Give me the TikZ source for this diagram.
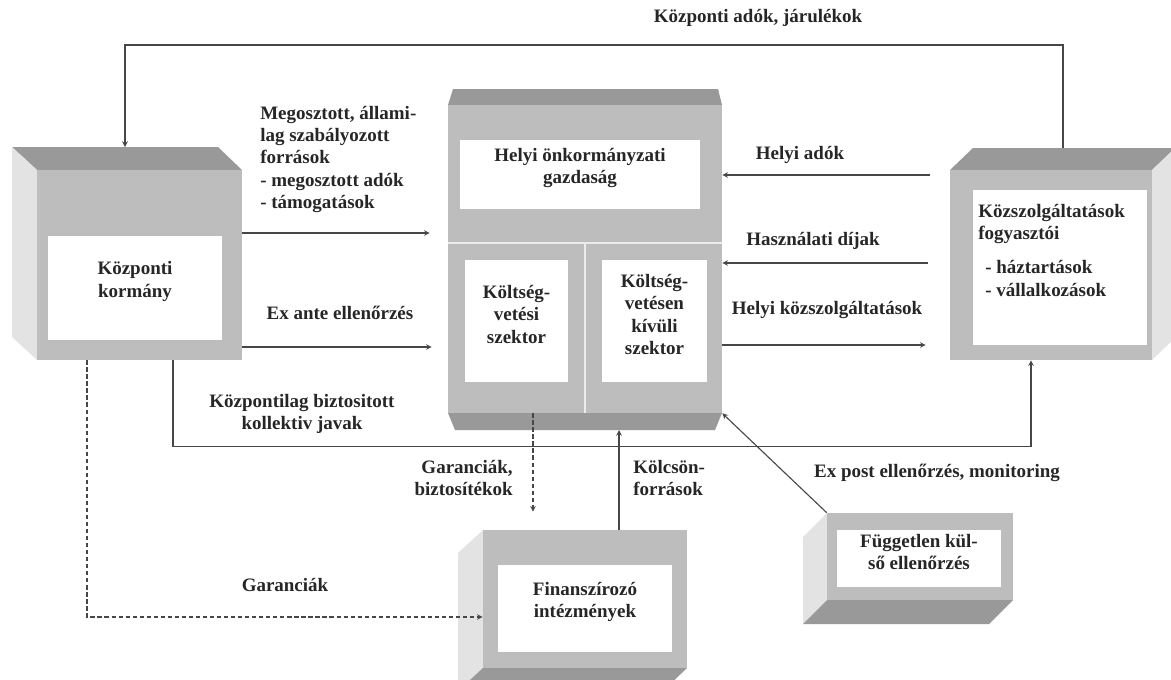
\documentclass[tikz,border=0pt]{standalone}
\usepackage{fontspec}
\setmainfont{Liberation Serif}
\usetikzlibrary{arrows,%
                fit}
\tikzstyle{front}=[rectangle, fill=black!26, inner sep=0pt]
\tikzstyle{inbox}=[rectangle, fill=white, inner sep=0pt]
\tikzstyle{topface}=[fill=black!40]
\tikzstyle{sideface}=[fill=black!11]
\tikzstyle{lbl}=[font=\fontsize{13.5}{15.8}\selectfont\bfseries, text=black!85, align=center, inner sep=0pt]
\tikzstyle{arr}=[-stealth, draw=black!72, line width=0.8pt]

\begin{document}
\begin{tikzpicture}[x=0.025cm, y=-0.025cm]
  \useasboundingbox (0,0) rectangle (1171,679);

  % Kozponti kormany
  \fill[topface] (12,147) -- (218,147) -- (242,170) -- (37,170) -- cycle;
  \fill[sideface] (12,147) -- (37,170) -- (37,360) -- (12,337) -- cycle;
  \node[front, fit={(37,170) (242,360)}] (kormany) {};
  \node[inbox, lbl, fit={(48,236) (222,340)}] (kormanyin) {Központi\\kormány};

  % Helyi onkormanyzati gazdasag
  \fill[topface] (453,89) -- (718,89) -- (722,105) -- (448,105) -- cycle;
  \fill[topface] (448,413) -- (722,413) -- (715,430) -- (455,430) -- cycle;
  \node[front, fit={(448,105) (722,413)}] (kozpont) {};
  \draw[black!8, line width=0.8pt] (kozpont.west |- 0,243) -- (kozpont.east |- 0,243);
  \draw[black!8, line width=0.8pt] (585,243) -- (kozpont.south -| 585,0);
  \node[inbox, lbl, fit={(460,140) (700,209)}] (helyi) {Helyi önkormányzati\\gazdaság};
  \node[inbox, lbl, fit={(465,260) (568,382)}] (kvs) {Költség-\\vetési\\szektor};
  \node[inbox, lbl, fit={(602,260) (707,382)}] (kvk) {Költség-\\vetésen\\kívüli\\szektor};
  \coordinate (kbot) at (585,430);

  % Kozszolgaltatasok fogyasztoi
  \fill[topface] (950,170) -- (973,148) -- (1175,148) -- (1152,170) -- cycle;
  \fill[sideface] (1152,170) -- (1175,148) -- (1175,338) -- (1152,360) -- cycle;
  \node[front, fit={(950,170) (1152,360)}] (fogyaszto) {};
  \node[inbox, fit={(973,190) (1147,345)}] (fogyin) {};
  \node[lbl, align=left, anchor=north west] (fogytxt) at (978,204)
    {Közszolgáltatások\\fogyasztói\\[3mm]\hspace*{5pt}- háztartások\\\hspace*{5pt}- vállalkozások};

  % Finanszirozo intezmenyek
  \fill[sideface] (458,553) -- (483,530) -- (483,668) -- (458,691) -- cycle;
  \fill[topface] (483,668) -- (687,668) -- (663,691) -- (458,691) -- cycle;
  \node[front, fit={(483,530) (687,668)}] (finansz) {};
  \node[inbox, lbl, fit={(498,565) (672,652)}] (finin) {Finanszírozó\\intézmények};

  % Fuggetlen kulso ellenorzes
  \fill[sideface] (803,537) -- (827,513) -- (827,600) -- (803,624) -- cycle;
  \fill[topface] (827,600) -- (1013,600) -- (989,624) -- (803,624) -- cycle;
  \node[front, fit={(827,513) (1013,600)}] (fuggetlen) {};
  \node[inbox, lbl, fit={(837,530) (1001,587)}] (fugin) {Független kül-\\ső ellenőrzés};

  % feliratok
  \node[lbl] (adok) at (758,18) {Központi adók, járulékok};
  \node[lbl, align=left, anchor=north west] (megoszt) at (260,106)
    {Megosztott, állami-\\lag szabályozott\\források\\- megosztott adók\\- támogatások};
  \node[lbl] (exante) at (340,313) {Ex ante ellenőrzés};
  \node[lbl] (kollektiv) at (302,414) {Központilag biztositott\\kollektiv javak};
  \node[lbl] (helyiado) at (800,155) {Helyi adók};
  \node[lbl] (dijak) at (813,241) {Használati díjak};
  \node[lbl] (szolg) at (827,310) {Helyi közszolgáltatások};
  \node[lbl, align=right, anchor=east] (garbizt) at (513,478) {Garanciák,\\biztosítékok};
  \node[lbl, align=left, anchor=west] (kolcson) at (633,478) {Kölcsön-\\források};
  \node[lbl] (expost) at (937,473) {Ex post ellenőrzés, monitoring};
  \node[lbl] (garancia) at (285,585) {Garanciák};

  % nyilak
  \coordinate (fogytop) at (1063,148);
  \coordinate (kormtop) at (125,147);
  \draw[arr] (fogytop) -- (fogytop |- 0,45) -| (kormtop);
  \draw[arr, shorten >=4.5mm] (kormany.east |- 0,233) -- (kozpont.west |- 0,233);
  \draw[arr, shorten >=4mm] (kormany.east |- 0,347) -- (kozpont.west |- 0,347);
  \draw[arr] (kormany.south -| 173,0) -- ++(0,86) -| (fogyaszto.south -| 1031,0);
  \draw[arr, shorten <=5mm] (fogyaszto.west |- 0,175) -- (kozpont.east |- 0,175);
  \draw[arr, shorten <=5.5mm] (fogyaszto.west |- 0,263) -- (kozpont.east |- 0,263);
  \draw[arr, shorten >=6mm] (kozpont.east |- 0,345) -- (fogyaszto.west |- 0,345);
  \draw[arr, dash pattern=on 3pt off 2pt] (kormany.south -| 87,0) |- (finansz.west |- 0,617);
  \draw[arr, dash pattern=on 3pt off 2pt, shorten >=4.5mm] (kozpont.south -| 533,0) -- (finansz.north -| 533,0);
  \draw[arr] (finansz.north -| 619,0) -- (kbot -| 619,0);
  \draw[arr] (fuggetlen.north west) -- (kozpont.south east);
  %\draw[arr] (fuggetlen.north) -- (kvk.south);
\end{tikzpicture}
\end{document}
